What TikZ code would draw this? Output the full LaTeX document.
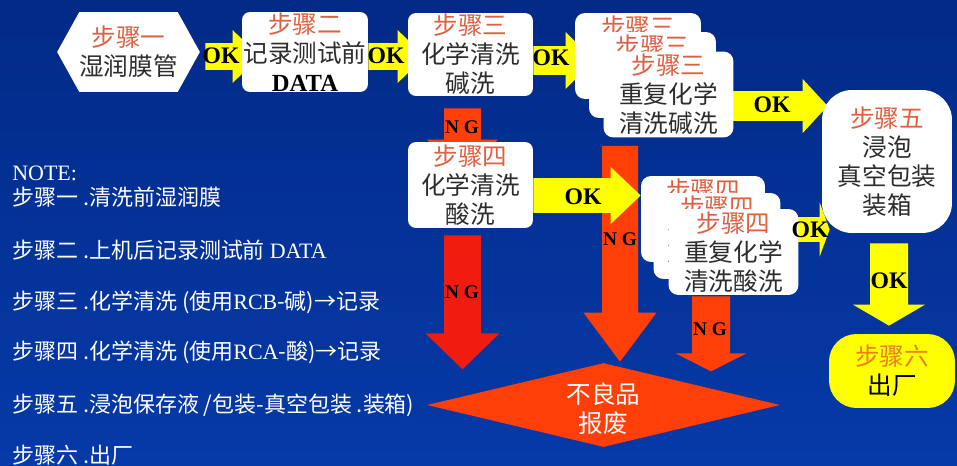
\documentclass[tikz,border=0pt]{standalone}
\usepackage{fontspec}
\setmainfont{Liberation Serif}
\newfontfamily\cjk{Noto Sans CJK SC}
\usetikzlibrary{shapes.geometric, shapes.symbols, calc, positioning}

\definecolor{bgtop}{RGB}{2,42,135}
\definecolor{bgbot}{RGB}{6,58,168}
\definecolor{okyellow}{RGB}{255,255,0}
\definecolor{ngred}{RGB}{240,28,15}
\definecolor{ngorange}{RGB}{255,62,8}
\definecolor{titlecol}{RGB}{222,96,66}
\definecolor{sixcol}{RGB}{232,128,30}
\definecolor{bodytext}{RGB}{45,45,45}

\pgfdeclarelayer{background}
\pgfdeclarelayer{arrows}
\pgfsetlayers{background,arrows,main}

\newcommand{\boxtitle}[1]{{\color{titlecol}#1}\\}

\begin{document}
\begin{tikzpicture}[x=0.02cm,y=-0.02cm,font=\cjk\fontsize{14}{16.5}\selectfont]

	\tikzset{stepbox/.style={draw=none, fill=white, rounded corners=0.16cm,
			align=center, text=bodytext, inner sep=0pt,
			minimum width=2.5cm, minimum height=1.72cm},
		bshaft/.store in=\bshaft, bhead/.store in=\bhead, btip/.store in=\btip,
		barrow/.style={to path={
				($(\tikztostart)!\bshaft!90:(\tikztotarget)$)
				-- ($($(\tikztotarget)!\btip!(\tikztostart)$)!\bshaft!90:(\tikztotarget)$)
				-- ($($(\tikztotarget)!\btip!(\tikztostart)$)!\bhead!90:(\tikztotarget)$)
				-- (\tikztotarget)
				-- ($($(\tikztotarget)!\btip!(\tikztostart)$)!\bhead!-90:(\tikztotarget)$)
				-- ($($(\tikztotarget)!\btip!(\tikztostart)$)!\bshaft!-90:(\tikztotarget)$)
				-- ($(\tikztostart)!\bshaft!-90:(\tikztotarget)$) -- cycle}},
		okarrow/.style={barrow, fill=okyellow},
		ngarrow/.style={barrow, fill=#1},
		oklabel/.style={font=\rmfamily\bfseries\fontsize{13.5}{13.5}\selectfont, text=black, inner sep=0pt},
		nglabel/.style={font=\rmfamily\bfseries\fontsize{11}{11}\selectfont, text=black, inner sep=0pt},
		notetext/.style={anchor=west, text=white, inner sep=0pt, font=\cjk\fontsize{12.5}{14}\selectfont}}

	\begin{pgfonlayer}{background}
		\fill[top color=bgtop, bottom color=bgbot] (0,0) rectangle (957,466);
	\end{pgfonlayer}

	% upper row
	\node[signal, signal to=west and east, signal pointer angle=122, fill=white,
	align=center, text=bodytext, inner sep=0pt, minimum width=2.66cm, minimum height=1.6cm]
	(s1) at (128.5,52) {\boxtitle{步骤一}湿润膜管};
	\node[stepbox, minimum width=2.52cm, minimum height=1.6cm] (s2) at (305,52)
	{\boxtitle{步骤二}记录测试前\\{\rmfamily\bfseries\color{black}DATA}};
	\node[stepbox, minimum height=1.66cm] (s3) at (470.5,54.5) {\boxtitle{步骤三}化学清洗\\碱洗};
	\node[stepbox, minimum width=2.52cm, rounded corners=0.2cm] (a3a) at (638,56) {\boxtitle{步骤三}重复化学\\清洗碱洗};
	\node[stepbox, minimum width=2.54cm, rounded corners=0.2cm] (a3b) at (652.5,75) {\boxtitle{步骤三}重复化学\\清洗碱洗};
	\node[stepbox, minimum width=2.6cm, rounded corners=0.2cm] (a3c) at (668.5,94.5) {\boxtitle{步骤三}重复化学\\清洗碱洗};

	% lower row
	\node[stepbox] (s4) at (470.5,185) {\boxtitle{步骤四}化学清洗\\酸洗};
	\node[stepbox, minimum width=2.48cm, rounded corners=0.2cm] (a4a) at (703,219) {\boxtitle{步骤四}重复化学\\清洗酸洗};
	\node[stepbox, minimum width=2.54cm, rounded corners=0.2cm] (a4b) at (717,236) {\boxtitle{步骤四}重复化学\\清洗酸洗};
	\node[stepbox, minimum width=2.6cm, rounded corners=0.2cm] (a4c) at (733.5,252) {\boxtitle{步骤四}重复化学\\清洗酸洗};

	\node[stepbox, minimum width=2.6cm, minimum height=2.86cm, rounded corners=0.6cm] (s5) at (887,161.5)
	{\boxtitle{步骤五}浸泡\\真空包装\\装箱};
	\node[stepbox, fill=okyellow, text=black, minimum width=2.52cm, minimum height=1.48cm, rounded corners=0.55cm]
	(s6) at (892,371) {{\color{sixcol}步骤六}\\出厂};

	\node[diamond, fill=ngorange, inner sep=0pt,
	minimum width=7.06cm, minimum height=1.68cm] (d) at (603.5,405) {};
	\node[text=white, align=center, inner sep=0pt] (dlabel) at ($(d.center)+(0,4)$) {不良品\\报废};

	% block arrows
	\begin{pgfonlayer}{arrows}
		\path[ngarrow=ngorange, bshaft=0.37cm, bhead=0.71cm, btip=0.7cm]
		($(s3.south)+(-8,12)$) to ($(s4.north)+(-8,33)$);
		\path[ngarrow=ngred, bshaft=0.37cm, bhead=0.74cm, btip=0.72cm]
		($(s4.south)+(-8,7)$) to ($(s4.south)+(-8,141)$);
		\path[ngarrow=ngorange, bshaft=0.36cm, bhead=0.73cm, btip=0.98cm]
		($(a3c.south)+(-48.5,8)$) to ($(d.north)+(16.5,-1)$);
		\path[ngarrow=ngorange, bshaft=0.38cm, bhead=0.71cm, btip=0.36cm]
		($(a4c.south)+(-22.5,1)$) to ($(a4c.south)+(-22.5,76)$);

		\path[okarrow, bshaft=0.27cm, bhead=0.53cm, btip=0.54cm]
		($(s1.east)+(5,4.5)$) to ($(s2.west)+(18,4.5)$);
		\path[okarrow, bshaft=0.27cm, bhead=0.53cm, btip=0.54cm]
		($(s2.east)+(0,4.5)$) to ($(s3.west)+(17,2)$);
		\path[okarrow, bshaft=0.29cm, bhead=0.57cm, btip=0.56cm]
		($(s3.east)+(0,6)$) to ($(a3a.west)+(19,4.5)$);
		\path[okarrow, bshaft=0.3cm, bhead=0.54cm, btip=0.5cm]
		($(a3c.east)+(-5,11.5)$) to ($(s5.west)+(6,-55.5)$);
		\path[okarrow, bshaft=0.35cm, bhead=0.57cm, btip=0.6cm]
		($(s4.east)+(0,10.5)$) to ($(a4a.west)+(0,-23.5)$);
		\path[okarrow, bshaft=0.25cm, bhead=0.54cm, btip=0.2cm]
		($(a4c.east)+(-7,-22.5)$) to ($(s5.west)+(8,68)$);
		\path[okarrow, bshaft=0.38cm, bhead=0.72cm, btip=0.42cm]
		($(s5.south)+(2,10)$) to ($(s6.north)+(-3,-8)$);
	\end{pgfonlayer}

	% arrow labels
	\node[oklabel] (ok1) at (221,56) {OK};
	\node[oklabel] (ok2) at (386,56) {OK};
	\node[oklabel] (ok3) at (551,58) {OK};
	\node[oklabel] (ok4) at (772,105) {OK};
	\node[oklabel] (ok5) at (583,197) {OK};
	\node[oklabel] (ok6) at (810,230) {OK};
	\node[oklabel] (ok7) at (889,281) {OK};
	\node[nglabel] (ng1) at (462,127) {N G};
	\node[nglabel] (ng2) at (462,292) {N G};
	\node[nglabel] (ng3) at (620,239) {N G};
	\node[nglabel] (ng4) at (710,329) {N G};

	% notes
	\node[notetext, font=\rmfamily\fontsize{12.5}{14}\selectfont] (n0) at (12,173) {NOTE:};
	\node[notetext] (n1) at (12,197) {步骤一 .清洗前湿润膜};
	\node[notetext] (n2) at (12,250) {步骤二 .上机后记录测试前 {\rmfamily DATA}};
	\node[notetext] (n3) at (12,302) {步骤三 .化学清洗 (使用{\rmfamily RCB}-碱)→记录};
	\node[notetext] (n4) at (12,352) {步骤四 .化学清洗 (使用{\rmfamily RCA}-酸)→记录};
	\node[notetext] (n5) at (12,405) {步骤五 .浸泡保存液 /包装-真空包装 .装箱)};
	\node[notetext] (n6) at (12,455) {步骤六 .出厂};

\end{tikzpicture}
\end{document}
